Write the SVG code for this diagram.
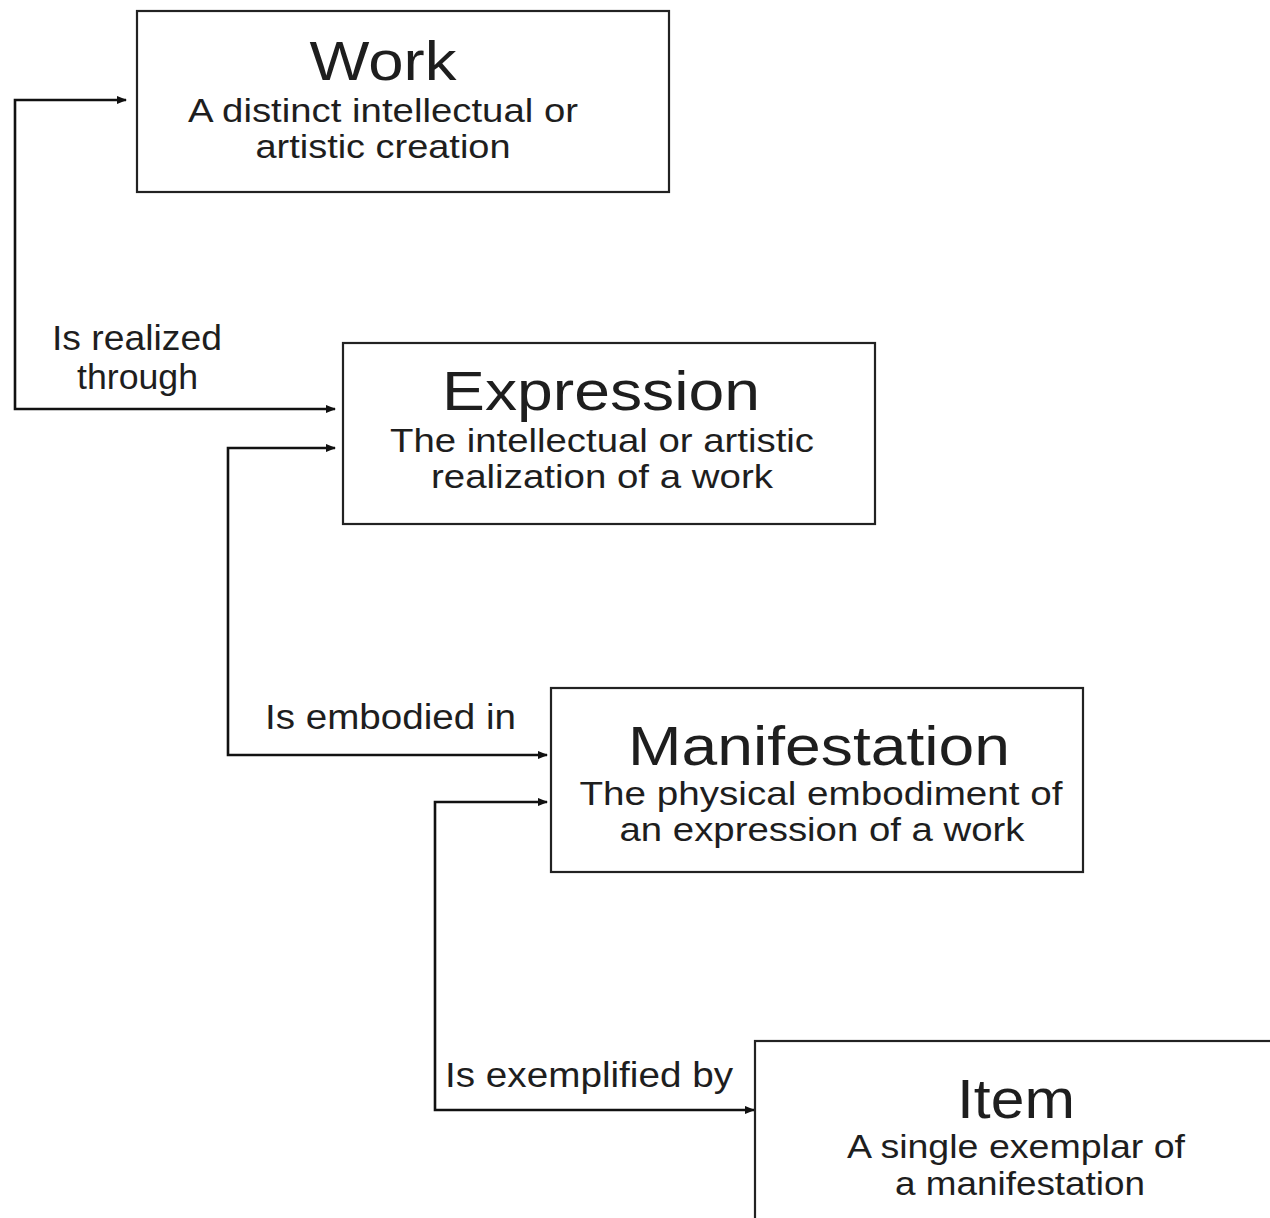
<svg xmlns="http://www.w3.org/2000/svg" width="1270" height="1218" viewBox="0 0 1270 1218">
<defs>
<style>
.box{fill:#fff;stroke:#222;stroke-width:2.2}
.t{font-family:"Liberation Sans",Arial,sans-serif;fill:#1e1e1e;text-anchor:middle}
.title{font-size:56px}
.sub{font-size:33px}
.lbl{font-family:"Liberation Sans",Arial,sans-serif;fill:#1e1e1e;font-size:35px}
.con{fill:none;stroke:#111;stroke-width:2.6;marker-start:url(#ah);marker-end:url(#ah)}
</style>
<marker id="ah" viewBox="0 0 10 8" refX="9" refY="4" markerWidth="4" markerHeight="3.2" orient="auto-start-reverse" markerUnits="strokeWidth">
<path d="M0,0 L10,4 L0,8 z" fill="#111"/>
</marker>
</defs>
<rect width="1270" height="1218" fill="#fff"/>
<g id="connectors">
<path class="con" d="M126,100 H15 V409 H335"/>
<path class="con" d="M335,448 H228 V755 H547"/>
<path class="con" d="M547,802 H435 V1110 H754"/>
<text class="lbl" x="52" y="350" textLength="170" lengthAdjust="spacingAndGlyphs">Is realized</text>
<text class="lbl" x="77" y="389" textLength="121" lengthAdjust="spacingAndGlyphs">through</text>
<text class="lbl" x="265" y="729" textLength="251" lengthAdjust="spacingAndGlyphs">Is embodied in</text>
<text class="lbl" x="445" y="1087" textLength="288" lengthAdjust="spacingAndGlyphs">Is exemplified by</text>
</g>
<g id="work">
<rect class="box" x="137" y="11" width="532" height="181"/>
<text class="t title" x="383" y="80" textLength="147" lengthAdjust="spacingAndGlyphs">Work</text>
<text class="t sub" x="383" y="122" textLength="390" lengthAdjust="spacingAndGlyphs">A distinct intellectual or</text>
<text class="t sub" x="383" y="158" textLength="255" lengthAdjust="spacingAndGlyphs">artistic creation</text>
</g>
<g id="expression">
<rect class="box" x="343" y="343" width="532" height="181"/>
<text class="t title" x="601" y="410" textLength="318" lengthAdjust="spacingAndGlyphs">Expression</text>
<text class="t sub" x="602" y="452" textLength="424" lengthAdjust="spacingAndGlyphs">The intellectual or artistic</text>
<text class="t sub" x="602" y="488" textLength="342" lengthAdjust="spacingAndGlyphs">realization of a work</text>
</g>
<g id="manifestation">
<rect class="box" x="551" y="688" width="532" height="184"/>
<text class="t title" x="819" y="765" textLength="382" lengthAdjust="spacingAndGlyphs">Manifestation</text>
<text class="t sub" x="821" y="805" textLength="483" lengthAdjust="spacingAndGlyphs">The physical embodiment of</text>
<text class="t sub" x="822" y="841" textLength="405" lengthAdjust="spacingAndGlyphs">an expression of a work</text>
</g>
<g id="item">
<rect class="box" x="755" y="1041" width="540" height="200"/>
<text class="t title" x="1016" y="1118" textLength="118" lengthAdjust="spacingAndGlyphs">Item</text>
<text class="t sub" x="1016" y="1158" textLength="338" lengthAdjust="spacingAndGlyphs">A single exemplar of</text>
<text class="t sub" x="1020" y="1195" textLength="250" lengthAdjust="spacingAndGlyphs">a manifestation</text>
</g>
</svg>
